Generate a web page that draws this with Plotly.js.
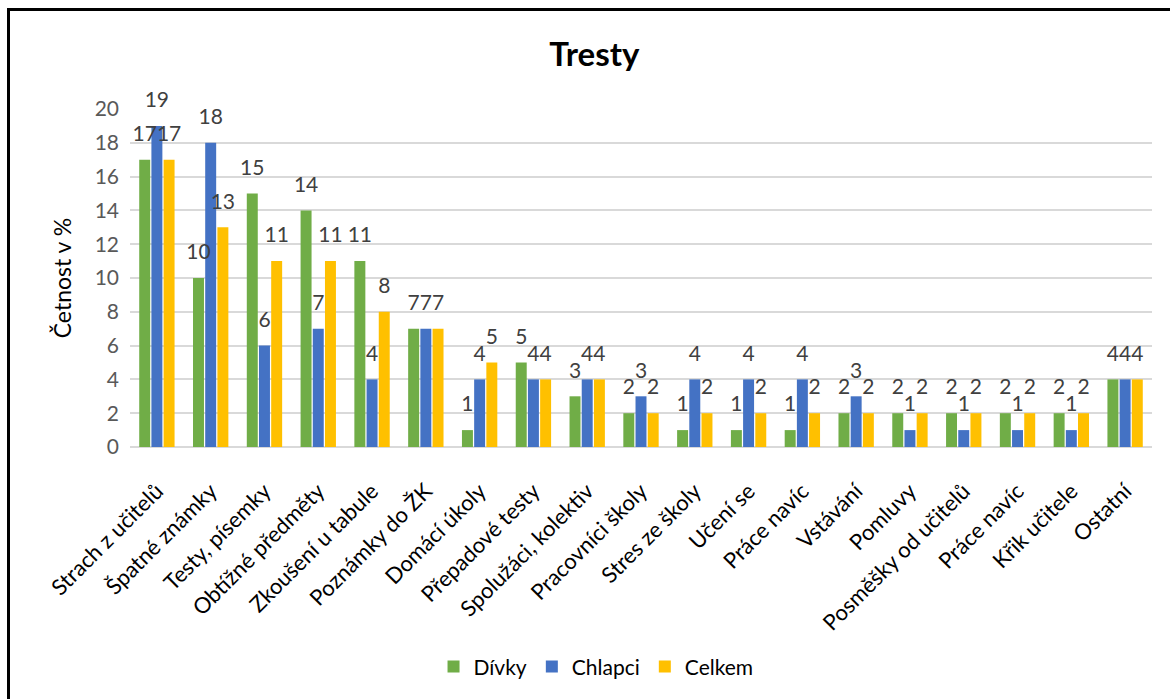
<!DOCTYPE html>
<html>
<head>
<meta charset="utf-8">
<script src="https://cdn.plot.ly/plotly-3.0.1.min.js"></script>
<style>
  html, body { margin: 0; padding: 0; background: #fff; }
  #wrap { position: relative; width: 1170px; height: 699px; overflow: hidden; }
  #chart { width: 1170px; height: 699px; }
  #frame { position: absolute; left: 7px; top: 8px; width: 1200px; height: 720px;
           border-left: 3px solid #000; border-top: 3px solid #000; pointer-events: none; }
</style>
</head>
<body>
<div id="wrap">
  <div id="chart"></div>
  <div id="frame"></div>
</div>
<script>
const categories = [
  "Strach z učitelů", "Špatné známky", "Testy, písemky", "Obtížné předměty",
  "Zkoušení u tabule", "Poznámky do ŽK", "Domácí úkoly", "Přepadové testy",
  "Spolužáci, kolektiv", "Pracovníci školy", "Stres ze školy", "Učení se",
  "Práce navíc", "Vstávání", "Pomluvy", "Posměšky od učitelů", "Práce navíc",
  "Křik učitele", "Ostatní"
];
const divky   = [17, 10, 15, 14, 11, 7, 1, 5, 3, 2, 1, 1, 1, 2, 2, 2, 2, 2, 4];
const chlapci = [19, 18, 6, 7, 4, 7, 4, 4, 4, 3, 4, 4, 4, 3, 1, 1, 1, 1, 4];
const celkem  = [17, 13, 11, 11, 8, 7, 5, 4, 4, 2, 2, 2, 2, 2, 2, 2, 2, 2, 4];
const seriesNames = ["Dívky", "Chlapci", "Celkem"];
const yTicks = [0, 2, 4, 6, 8, 10, 12, 14, 16, 18, 20];

const xIdx = categories.map((_, i) => i);
const FONT = "Lato, 'Open Sans', sans-serif";
const colors = ["#70AD47", "#4472C4", "#FFC000"];
const series = [divky, chlapci, celkem];

const data = [];
series.forEach((vals, k) => {
  data.push({
    type: "bar", x: xIdx, y: vals, name: seriesNames[k],
    marker: { color: colors[k] }, hoverinfo: "y+name"
  });
});
series.forEach((vals, k) => {
  data.push({
    type: "scatter", mode: "markers+text", x: xIdx, y: vals,
    marker: { size: 20, color: "rgba(0,0,0,0)" },
    text: vals.map(String), textposition: "top center",
    textfont: { family: FONT, size: 21, color: "#404040" },
    cliponaxis: false, showlegend: false, hoverinfo: "skip"
  });
});

const layout = {
  width: 1170, height: 699,
  margin: { l: 130, r: 18, t: 109, b: 250 },
  paper_bgcolor: "#fff", plot_bgcolor: "#fff",
  barmode: "group", bargap: 0.32, bargroupgap: 0.1,
  scattermode: "group", scattergap: 0.32,
  title: { text: "<b>Tresty</b>", x: 0.508, xanchor: "center", y: 0.922, yanchor: "middle",
           font: { family: FONT, size: 33, color: "#000" } },
  xaxis: {
    tickvals: xIdx, ticktext: categories, tickangle: -45,
    range: [-0.5, categories.length - 0.5],
    tickfont: { family: FONT, size: 22, color: "#000" },
    showgrid: false, zeroline: false, showline: false, ticks: "", ticklen: 0,
    ticklabelstandoff: 26
  },
  yaxis: {
    range: [0, 20], tickvals: yTicks, ticktext: yTicks.map(String),
    tickfont: { family: FONT, size: 21, color: "#595959" },
    gridcolor: "#D9D9D9", gridwidth: 2, zeroline: true, zerolinecolor: "#D9D9D9", zerolinewidth: 2,
    showline: false, ticks: "", ticklabelstandoff: 10,
    title: { text: "Četnost v %", standoff: 16, font: { family: FONT, size: 23, color: "#000" } }
  },
  legend: {
    orientation: "h", x: 0.456, xanchor: "center", y: -0.59, yanchor: "top",
    font: { family: FONT, size: 21, color: "#000" }, itemwidth: 30, traceorder: "normal"
  },
  showlegend: true
};

Plotly.newPlot("chart", data, layout, { displayModeBar: false, staticPlot: true });
</script>
</body>
</html>
